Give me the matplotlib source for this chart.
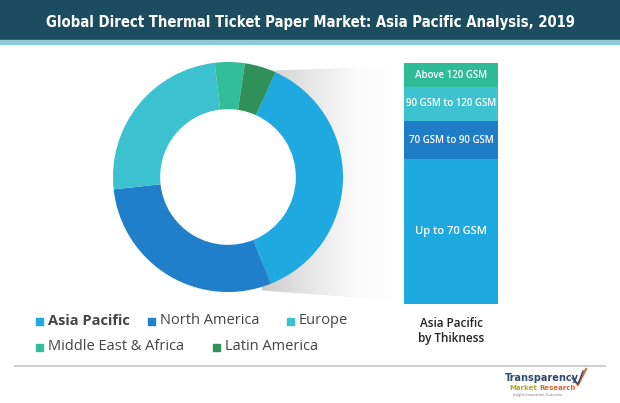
import matplotlib
matplotlib.use("Agg")
import matplotlib.pyplot as plt
import matplotlib.font_manager as fm
import numpy as np
from matplotlib.patches import Polygon, Rectangle, Circle
from matplotlib.colors import LinearSegmentedColormap

# ---- data ----
regions = ["Asia Pacific", "North America", "Europe", "Middle East & Africa", "Latin America"]
region_share = [37.2, 29.4, 24.9, 4.2, 4.4]
region_colors = ["#1fa9e1", "#1f7fca", "#3cc1d0", "#31bd98", "#2f9158"]

thickness = ["Up to 70 GSM", "70 GSM to 90 GSM", "90 GSM to 120 GSM", "Above 120 GSM"]
thickness_share = [60, 16, 14, 10]
thickness_colors = ["#1fa9e1", "#1f7cc7", "#3dc2cf", "#2ebc96"]

title = "Global Direct Thermal Ticket Paper Market: Asia Pacific Analysis, 2019"

W, H = 620, 403
fig = plt.figure(figsize=(W / 100, H / 100), dpi=100)

# pick a condensed bold font if available
def pick_condensed():
    best = None
    for f in fm.fontManager.ttflist:
        cond = (str(f.stretch) in ("condensed", "semi-condensed", "extra-condensed", "ultra-condensed")
                or "Condensed" in f.name or "Narrow" in f.name
                or "Condensed" in f.fname or "Narrow" in f.fname)
        if not cond:
            continue
        w = f.weight if isinstance(f.weight, int) else (700 if "bold" in str(f.weight) else 400)
        bold = w >= 600 or "Bold" in f.fname
        if "Italic" in f.fname or "Oblique" in f.fname:
            continue
        score = (2 if bold else 1)
        if best is None or score > best[0]:
            best = (score, f)
    return best[1] if best else None

cf = pick_condensed()
if cf is not None:
    title_fp = fm.FontProperties(fname=cf.fname, size=16)
else:
    title_fp = fm.FontProperties(family="DejaVu Sans", weight="bold", size=16)

# background axes in pixel coords (y down)
bg = fig.add_axes([0, 0, 1, 1])
bg.set_xlim(0, W)
bg.set_ylim(H, 0)
bg.axis("off")

# header
bg.add_patch(Rectangle((0, 0), W, 40, color="#1b4c60", zorder=1))
bg.add_patch(Rectangle((0, 40), W, 4, color="#8fcad6", zorder=1))
tt = bg.text(W / 2, 22, title, color="white", fontproperties=title_fp,
             ha="center", va="center", zorder=2)
fig.canvas.draw()
wpx = tt.get_window_extent().width
target = 530.0
if wpx > 0:
    tt.set_fontsize(min(16, 16 * target / wpx))

# shadow gradient
poly = Polygon([(228, 72), (404, 66), (404, 301), (228, 288)], closed=True,
               facecolor="none", edgecolor="none")
bg.add_patch(poly)
grad = np.linspace(0, 1, 256)[None, :]
cmap = LinearSegmentedColormap.from_list("sh", ["#cdcdcd", "#e6e6e6", "#fbfbfb", "#ffffff"])
im = bg.imshow(grad, extent=(262, 404, 301, 66), cmap=cmap, aspect="auto", zorder=1.5)
im.set_clip_path(poly)
bg.set_xlim(0, W)
bg.set_ylim(H, 0)

# bottom separator line
bg.plot([15, 605], [366, 366], color="#cfcfcf", lw=1.5, zorder=1)

# ---- donut ----
cx, cy, R = 228, 177, 115
pax = fig.add_axes([(cx - R) / W, 1 - (cy + R) / H, 2 * R / W, 2 * R / H])
pax.pie(region_share, colors=region_colors, startangle=90 - 24.3, counterclock=False,
        radius=1.0, wedgeprops=dict(width=0.41, edgecolor="none", linewidth=0))
pax.add_patch(Circle((0, 0), 0.59, color="white", zorder=0.5))
pax.set_xlim(-1, 1)
pax.set_ylim(-1, 1)
pax.set_aspect("auto")
pax.axis("off")

# ---- stacked bar ----
bx0, bx1, by0, by1 = 404, 498, 63, 304
bax = fig.add_axes([bx0 / W, 1 - by1 / H, (bx1 - bx0) / W, (by1 - by0) / H])
bottom = 0
for lab, val, col in zip(thickness, thickness_share, thickness_colors):
    bax.bar(0, val, bottom=bottom, width=1.0, color=col, edgecolor="none")
    fs = 8 if lab == "Up to 70 GSM" else 7
    bax.text(0, bottom + val / 2, lab, color="white", ha="center", va="center",
             fontsize=fs, family="Open Sans", fontweight="semibold")
    bottom += val
bax.set_xlim(-0.5, 0.5)
bax.set_ylim(0, 100)
bax.axis("off")

bg.text(451, 331, "Asia Pacific\nby Thikness", ha="center", va="center", fontsize=8.5,
        family="Open Sans", fontweight="semibold", color="#222222", linespacing=1.25)

# ---- legend ----
leg_pos = [(36, 321), (148, 321), (287, 321), (36, 347), (213, 347)]
for (x, y), lab, col in zip(leg_pos, regions, region_colors):
    bg.add_patch(Rectangle((x, y - 3.5), 7, 7, color=col))
    bg.text(x + 12, y, lab, fontsize=10.5, family="Open Sans", va="center", ha="left",
            color="#444444", fontweight="bold" if lab == "Asia Pacific" else "normal")

# ---- logo ----
bg.text(542, 378, "Transparency", fontsize=7, family="DejaVu Sans",
        fontweight="bold", color="#2c4a6b", ha="center", va="center")
bg.text(537, 388, "Market", fontsize=5, family="DejaVu Sans",
        fontweight="bold", color="#b7a42a", ha="right", va="center")
bg.text(539, 388, "Research", fontsize=5, family="DejaVu Sans",
        fontweight="bold", color="#e0622a", ha="left", va="center")
bg.text(538, 395, "Insight-Innovation-Outcome", fontsize=2.5, color="#777777",
        ha="center", va="center")
bg.plot([574, 578, 586], [380, 385, 369], color="#e0622a", lw=1.5)
bg.plot([572, 578, 583], [378, 384, 371], color="#2c4a6b", lw=1)

fig.savefig("out.png", dpi=100)
